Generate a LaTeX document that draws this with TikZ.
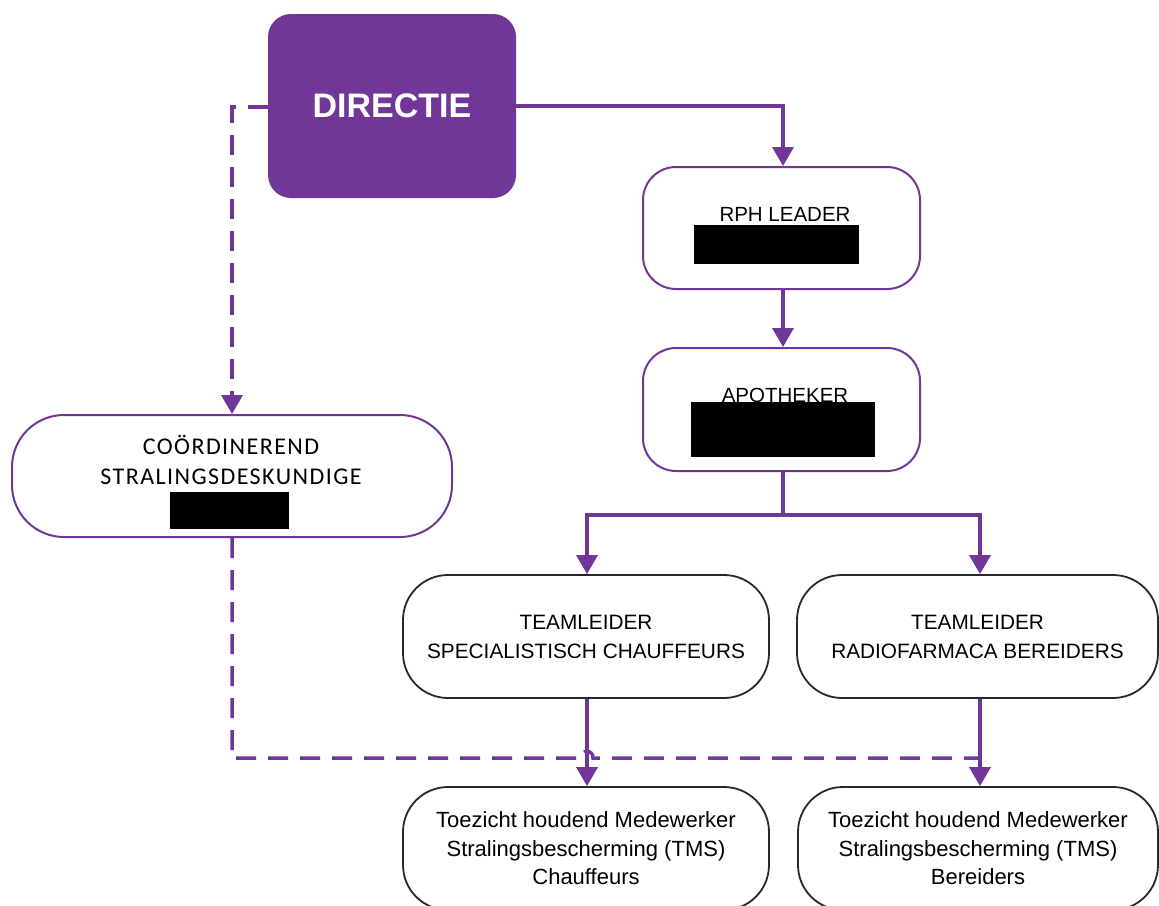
\documentclass[tikz,border=0pt]{standalone}
\usepackage{fontspec}
\setmainfont{Liberation Sans}
\newfontfamily\calib[LetterSpace=6]{Carlito}
\usetikzlibrary{arrows.meta}
\definecolor{purp}{RGB}{112,54,152}
\definecolor{edge}{RGB}{40,40,40}
\begin{document}
\begin{tikzpicture}[x=1pt,y=-1pt,
  pbox/.style={draw=purp, line width=2pt, fill=white, rounded corners=33pt,
    minimum width=277pt, minimum height=122pt, inner sep=0pt},
  kbox/.style={draw=edge, line width=1.8pt, fill=white, rounded corners=45pt,
    minimum height=123pt, inner sep=0pt, align=center},
  redact/.style={fill=black, inner sep=0pt},
  lbl/.style={inner sep=0pt, font=\fontsize{20.5}{29}\selectfont},
  pline/.style={draw=purp, line width=3.5pt, line join=miter},
  conn/.style={pline, -{Triangle[length=19pt,width=21pt]}},
  dconn/.style={conn, dash pattern=on 20pt off 12pt},
  dline/.style={pline, dash pattern=on 20pt off 12pt}]
\useasboundingbox (0,0) rectangle (1159,905);
\clip (0,0) rectangle (1159,905);

% DIRECTIE
\node[fill=purp, rounded corners=23pt, minimum width=248pt, minimum height=184pt,
  inner sep=0pt, text=white, font=\fontsize{34}{40}\selectfont\bfseries]
  (dir) at (392,106) {DIRECTIE};

% RPH LEADER
\node[pbox] (rph) at (781.5,228) {};
\node[lbl] (rphT) at (785,214) {RPH LEADER};
\node[redact, minimum width=165pt, minimum height=39pt] (rphR) at (776.5,244.5) {};

% APOTHEKER
\node[pbox, minimum height=123pt] (apo) at (781.5,409.5) {};
\node[lbl] (apoT) at (785,395) {APOTHEKER};
\node[redact, minimum width=184pt, minimum height=55pt] (apoR) at (783,429.5) {};

% COORDINEREND
\node[pbox, rounded corners=52pt, minimum width=440pt] (cso) at (232,476) {};
\node[inner sep=0pt, font=\calib\fontsize{24}{32}\selectfont] (csoT1) at (231,445) {COÖRDINEREND};
\node[inner sep=0pt, font=\calib\fontsize{24}{32}\selectfont] (csoT2) at (231,477) {STRALINGSDESKUNDIGE};
\node[redact, minimum width=119pt, minimum height=37pt] (csoR) at (229.5,510.5) {};

% Teamleiders
\node[kbox, minimum width=366pt, font=\fontsize{20.8}{29}\selectfont]
  (tl1) at (586,636.5) {TEAMLEIDER\\SPECIALISTISCH CHAUFFEURS};
\node[kbox, minimum width=361pt, font=\fontsize{20.8}{29}\selectfont]
  (tl2) at (977.5,636.5) {TEAMLEIDER\\RADIOFARMACA BEREIDERS};

% TMS
\node[kbox, minimum width=366pt, font=\fontsize{22}{28.5}\selectfont]
  (tms1) at (586,848.5) {Toezicht houdend Medewerker\\Stralingsbescherming (TMS)\\Chauffeurs};
\node[kbox, minimum width=360pt, font=\fontsize{22}{28.5}\selectfont]
  (tms2) at (978,848.5) {Toezicht houdend Medewerker\\Stralingsbescherming (TMS)\\Bereiders};

% connectors
\coordinate (c1) at (783,106);
\draw[conn] (dir.east) -- (c1) -- (c1 |- rph.north);
\draw[conn] (rph.south -| c1) -- (apo.north -| c1);
\coordinate (bj) at (783,515);
\coordinate (bl) at (587,515);
\coordinate (br) at (980,515);
\draw[conn] (apo.south -| bj) -- (bj) -- (bl) -- (bl |- tl1.north);
\draw[conn] (bj) -- (br) -- (br |- tl2.north);
\draw[conn] (tl1.south -| bl) -- (tms1.north -| bl);
\draw[conn] (tl2.south -| br) -- (tms2.north -| br);

% dashed lines
\coordinate (d1) at (232,107);
\draw[dconn] (dir.west |- d1) -- (d1) -- (d1 |- cso.north);
\coordinate (dl) at (232,758);
\coordinate (h1) at (581,758);
\coordinate (h2) at (593,758);
\coordinate (dr) at (980,758);
\draw[dline] (cso.south -| dl) -- (dl) -- (h1) .. controls (581,749) and (593,749) .. (h2) -- (dr);
\end{tikzpicture}
\end{document}
